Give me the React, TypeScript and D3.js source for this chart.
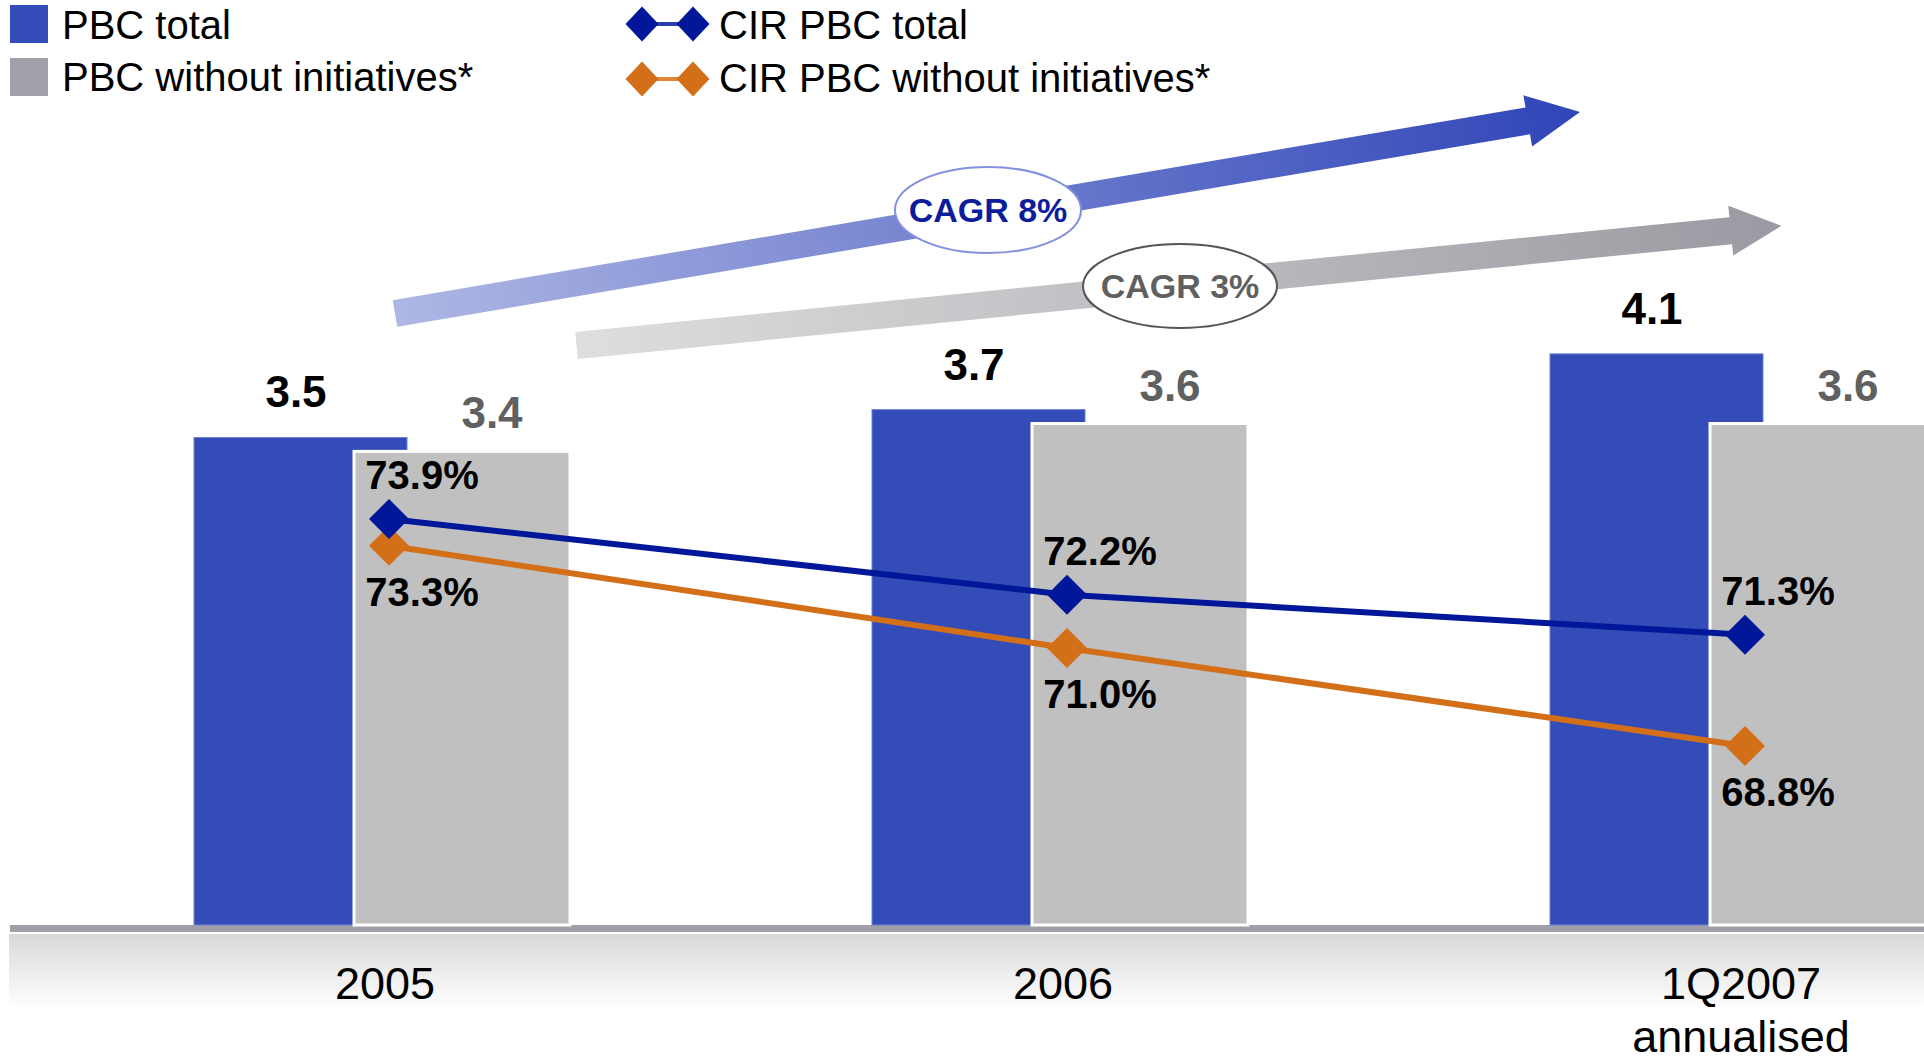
import React from "react";
import * as d3 from "d3";

const categories = ["2005", "2006", "1Q2007"];
const categorySubLabels = ["", "", "annualised"];
const pbcTotal = [3.5, 3.7, 4.1];
const pbcWithout = [3.4, 3.6, 3.6];
const cirTotal = [73.9, 72.2, 71.3];
const cirWithout = [73.3, 71.0, 68.8];
const cagrLabels = ["CAGR 8%", "CAGR 3%"];
const legendBars = ["PBC total", "PBC without initiatives*"];
const legendLines = ["CIR PBC total", "CIR PBC without initiatives*"];

const W = 1924;
const H = 1061;
const FONT = "'Liberation Sans', Arial, Helvetica, sans-serif";
const BLUE = "#334cb8";
const GRAY = "#c0c0c0";
const NAVY = "#00179a";
const ORANGE = "#d36f18";

function arrowPoints(x0: number, y0: number, x1: number, y1: number, h: number, L: number, Hh: number) {
  const dx = x1 - x0, dy = y1 - y0;
  const len = Math.hypot(dx, dy);
  const ux = dx / len, uy = dy / len;
  const nx = -uy, ny = ux;
  const bx = x1 - ux * L, by = y1 - uy * L;
  const pts = [
    [x0 + nx * h, y0 + ny * h],
    [bx + nx * h, by + ny * h],
    [bx + nx * Hh, by + ny * Hh],
    [x1, y1],
    [bx - nx * Hh, by - ny * Hh],
    [bx - nx * h, by - ny * h],
    [x0 - nx * h, y0 - ny * h],
  ];
  return pts.map((p) => p.join(",")).join(" ");
}

function diamond(cx: number, cy: number, rx: number, ry: number) {
  return `M${cx},${cy - ry}L${cx + rx},${cy}L${cx},${cy + ry}L${cx - rx},${cy}Z`;
}

export default function App() {
  const x = d3.scaleBand<string>().domain(categories).range([194, 194 + 3 * 678]).paddingInner(0).paddingOuter(0);
  const y = d3.scaleLinear().domain([0, 4.1]).range([925, 925 - 4.1 * 139.3]);
  const yc = d3.scaleLinear().domain([68.8, 73.9]).range([746, 519]);

  const blueW = 213;
  const grayOff = 160;
  const grayW = 216;
  const lineOff = 195;

  const lineGen = d3.line<number>().x((_, i) => (x(categories[i]) as number) + lineOff).y((v) => yc(v));

  const arrows = [
    { x0: 395, y0: 313.5, x1: 1580, y1: 112, c0: "#aeb7e4", c1: "#3045b8", id: "gBlue" },
    { x0: 576.5, y0: 345.5, x1: 1781.5, y1: 225.7, c0: "#dededf", c1: "#9a9aa2", id: "gGray" },
  ];
  const ellipses = [
    { cx: 988, cy: 210, rx: 93, ry: 43, stroke: "#8391df", color: "#0b1d9c" },
    { cx: 1180, cy: 286, rx: 97, ry: 42, stroke: "#555555", color: "#606060" },
  ];

  return (
    <svg width={W} height={H} style={{ position: "absolute", left: 0, top: 0, display: "block" }} fontFamily={FONT}>
      <defs>
        {arrows.map((a) => (
          <linearGradient key={a.id} id={a.id} gradientUnits="userSpaceOnUse" x1={a.x0} y1={a.y0} x2={a.x1} y2={a.y1}>
            <stop offset="0" stopColor={a.c0} />
            <stop offset="1" stopColor={a.c1} />
          </linearGradient>
        ))}
        <linearGradient id="floor" x1="0" y1="0" x2="0" y2="1">
          <stop offset="0" stopColor="#d9d9d9" />
          <stop offset="1" stopColor="#ffffff" />
        </linearGradient>
      </defs>
      <rect x={0} y={0} width={W} height={H} fill="#ffffff" />

      {/* legend */}
      {legendBars.map((t, i) => (
        <g key={t}>
          <rect x={10} y={5 + i * 53} width={38} height={38} fill={i === 0 ? BLUE : "#a0a0a8"} />
          <text x={62} y={39 + i * 52} fontSize={40} fill="#000">{t}</text>
        </g>
      ))}
      {legendLines.map((t, i) => {
        const cy = 24 + i * 55;
        const c = i === 0 ? NAVY : ORANGE;
        return (
          <g key={t}>
            <line x1={642} y1={cy} x2={693} y2={cy} stroke={i === 0 ? "#2a3db0" : "#e08636"} strokeWidth={4} />
            <path d={diamond(642, cy, 16.5, 17.5)} fill={c} />
            <path d={diamond(693, cy, 16.5, 17.5)} fill={c} />
            <text x={719} y={39 + i * 53} fontSize={40} fill="#000">{t}</text>
          </g>
        );
      })}

      {/* CAGR arrows */}
      {arrows.map((a, i) => (
        <polygon key={a.id} points={arrowPoints(a.x0, a.y0, a.x1, a.y1, 13.5, i === 0 ? 53 : 51, i === 0 ? 26 : 25)} fill={`url(#${a.id})`} />
      ))}
      {ellipses.map((e, i) => (
        <g key={i}>
          <ellipse cx={e.cx} cy={e.cy} rx={e.rx} ry={e.ry} fill="#fff" stroke={e.stroke} strokeWidth={2} />
          <text x={e.cx} y={e.cy + 12} textAnchor="middle" fontSize={34} fontWeight="bold" fill={e.color}>{cagrLabels[i]}</text>
        </g>
      ))}

      {/* floor */}
      <rect x={9} y={934} width={W - 9} height={76} fill="url(#floor)" />
      <rect x={10} y={925} width={W - 10} height={7} fill="#a0a0a8" />

      {/* bars */}
      {categories.map((c, i) => {
        const bx = x(c) as number;
        return (
          <g key={c}>
            <rect x={bx} y={y(pbcTotal[i])} width={blueW} height={y(0) - y(pbcTotal[i])} fill={BLUE} stroke="#6f80d4" strokeWidth={1} />
            <rect x={bx + grayOff} y={y(pbcWithout[i])} width={grayW} height={y(0) - y(pbcWithout[i])} fill={GRAY} stroke="#ffffff" strokeWidth={3} />
            <text x={bx + 102} y={y(pbcTotal[i]) - 30} textAnchor="middle" fontSize={44} fontWeight="bold" fill="#000">{pbcTotal[i].toFixed(1)}</text>
            <text x={bx + 298} y={y(pbcWithout[i]) - 23} textAnchor="middle" fontSize={44} fontWeight="bold" fill="#606060">{pbcWithout[i].toFixed(1)}</text>
            <text x={bx + 191} y={999} textAnchor="middle" fontSize={45} fill="#000">{c}</text>
            {categorySubLabels[i] && (
              <text x={bx + 191} y={1052} textAnchor="middle" fontSize={45} fill="#000">{categorySubLabels[i]}</text>
            )}
          </g>
        );
      })}

      {/* lines */}
      <path d={lineGen(cirWithout) as string} fill="none" stroke={ORANGE} strokeWidth={6} />
      <path d={lineGen(cirTotal) as string} fill="none" stroke={NAVY} strokeWidth={6} />
      {cirWithout.map((v, i) => (
        <path key={"o" + i} d={diamond((x(categories[i]) as number) + lineOff, yc(v), 20, 20)} fill={ORANGE} />
      ))}
      {cirTotal.map((v, i) => (
        <path key={"b" + i} d={diamond((x(categories[i]) as number) + lineOff, yc(v), 20, 20)} fill={NAVY} />
      ))}
      {categories.map((c, i) => {
        const lx = (x(c) as number) + 228;
        return (
          <g key={"l" + c}>
            <text x={lx} y={yc(cirTotal[i]) - 30} textAnchor="middle" fontSize={40} fontWeight="bold" fill="#000">{cirTotal[i].toFixed(1)}%</text>
            <text x={lx} y={yc(cirWithout[i]) + 60} textAnchor="middle" fontSize={40} fontWeight="bold" fill="#000">{cirWithout[i].toFixed(1)}%</text>
          </g>
        );
      })}
    </svg>
  );
}
